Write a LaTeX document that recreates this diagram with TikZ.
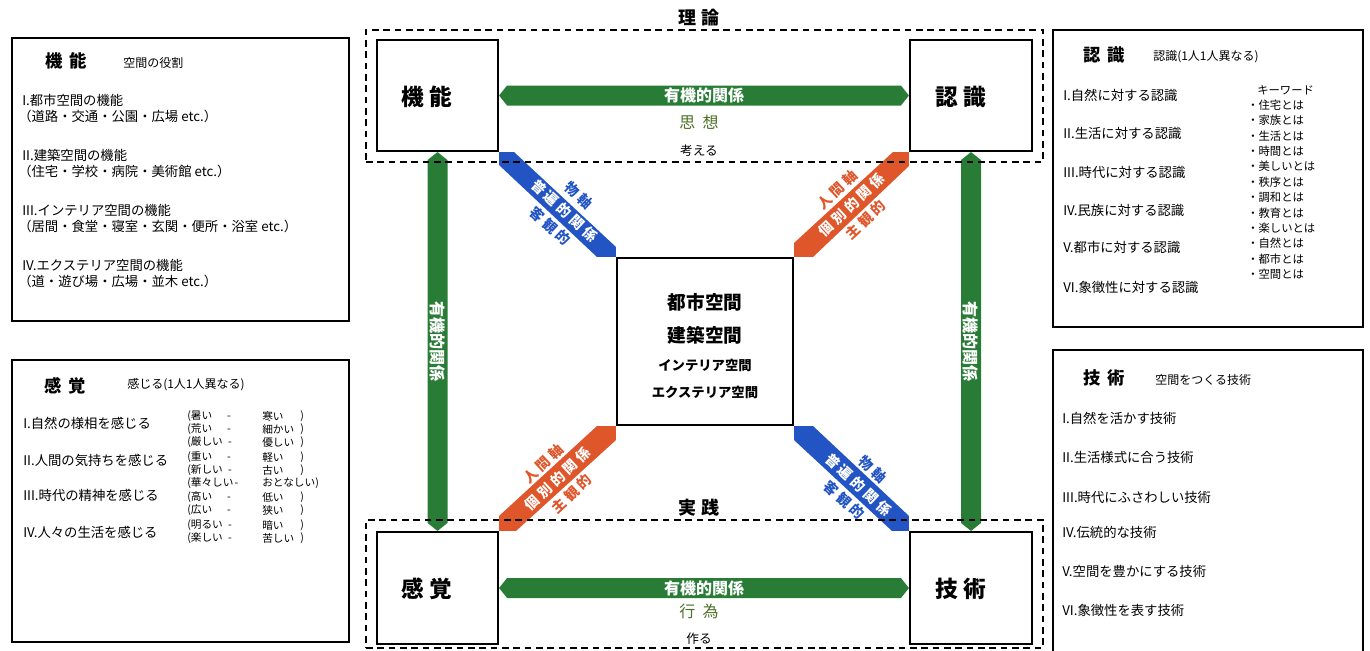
\documentclass[tikz,border=0pt]{standalone}
\usepackage{fontspec}
\setmainfont{Noto Sans CJK JP}
\usetikzlibrary{calc,fit}
\definecolor{grn}{RGB}{40,124,54}
\definecolor{blu}{RGB}{34,84,196}
\definecolor{org}{RGB}{222,86,42}
\definecolor{olv}{RGB}{76,112,38}
\newcommand{\myfs}[1]{\fontsize{#1}{#1}\selectfont}
\newcommand{\bandfs}{\fontsize{10.5}{15.5}\selectfont\addfontfeatures{LetterSpace=25}}
\begin{document}
\begin{tikzpicture}[x=0.75pt,y=-0.75pt,
 panel/.style={draw,line width=1.4pt,inner sep=0pt},
 box/.style={draw,line width=1.6pt,inner sep=0pt},
 dbox/.style={draw,line width=1.1pt,inner sep=0pt,dash pattern=on 5pt off 3.5pt},
 ttl/.style={font=\bfseries\myfs{13},inner sep=0pt},
 sub/.style={font=\myfs{9},anchor=west,inner sep=0pt},
 itm/.style={font=\myfs{10},anchor=west,inner sep=0pt},
 pr/.style={font=\myfs{8},anchor=west,inner sep=0pt},
 kw/.style={font=\myfs{8.5},anchor=west,inner sep=0pt},
 big/.style={font=\bfseries\myfs{17},inner sep=0pt},
 head/.style={font=\bfseries\myfs{13.5},inner sep=0pt},
 wlbl/.style={text=white,font=\bfseries\myfs{12},inner sep=0pt},
 olbl/.style={text=olv,font=\myfs{12},inner sep=0pt},
 small/.style={font=\myfs{9.5},inner sep=0pt},
 bandtxt/.style={align=center,font=\bfseries\bandfs,inner sep=0pt},
 ctrA/.style={font=\bfseries\myfs{14},inner sep=0pt},
 ctrB/.style={font=\bfseries\myfs{10},inner sep=0pt},
]
\useasboundingbox (0,0) rectangle (1370,650);

% ---------- side panels ----------
\node[panel,fit={(12,38) (349,321)}] (pk) {};
\node[panel,fit={(12,360) (349,642)}] (pf) {};
\node[panel,fit={(1053,30) (1363,327)}] (pn) {};
\node[panel,fit={(1053,350) (1363,662)}] (pg) {};

% panel: 機能
\node[ttl] (pkT) at (66,61) {機\hspace{.35em}能};
\node[sub] (pkS) at (123,63) {空間の役割};
\node[itm] (pk1) at (22,100) {I.都市空間の機能};
\node[itm] (pk1b) at (18,116) {（道路・交通・公園・広場 etc.）};
\node[itm] (pk2) at (22,155) {II.建築空間の機能};
\node[itm] (pk2b) at (18,171) {（住宅・学校・病院・美術館 etc.）};
\node[itm] (pk3) at (22,210) {III.インテリア空間の機能};
\node[itm] (pk3b) at (18,226) {（居間・食堂・寝室・玄関・便所・浴室 etc.）};
\node[itm] (pk4) at (22,265) {IV.エクステリア空間の機能};
\node[itm] (pk4b) at (18,281) {（道・遊び場・広場・並木 etc.）};

% panel: 感覚
\node[ttl] (pfT) at (65,386) {感\hspace{.35em}覚};
\node[sub] (pfS) at (127,385) {感じる(1人1人異なる)};
\node[itm] (pf1) at (23,423) {I.自然の様相を感じる};
\node[itm] (pf2) at (23,460) {II.人間の気持ちを感じる};
\node[itm] (pf3) at (23,495) {III.時代の精神を感じる};
\node[itm] (pf4) at (23,532) {IV.人々の生活を感じる};
\foreach \a/\b/\c/\y [count=\i] in {
 {(暑い\hspace{1.4em}-}/寒い/)/416,
 {(荒い\hspace{1.4em}-}/細かい/)/429,
 {(厳しい\hspace{.5em}-}/優しい/)/442,
 {(重い\hspace{1.4em}-}/軽い/)/457,
 {(新しい\hspace{.5em}-}/古い/)/470,
 {(華々しい\hspace{.1em}-}/{おとなしい)}/{}/483,
 {(高い\hspace{1.4em}-}/低い/)/497,
 {(広い\hspace{1.4em}-}/狭い/)/510,
 {(明るい\hspace{.5em}-}/暗い/)/525,
 {(楽しい\hspace{.5em}-}/苦しい/)/538}{
 \node[pr] (pa\i) at (187,\y) {\a};
 \node[pr] (pb\i) at (262,\y) {\b};
 \node[pr] (pc\i) at (300,\y) {\c};
}

% panel: 認識
\node[ttl] (pnT) at (1104,55) {認\hspace{.35em}識};
\node[sub] (pnS) at (1153,57) {認識(1人1人異なる)};
\node[itm] (pn1) at (1063,95) {I.自然に対する認識};
\node[itm] (pn2) at (1063,133) {II.生活に対する認識};
\node[itm] (pn3) at (1063,172) {III.時代に対する認識};
\node[itm] (pn4) at (1063,210) {IV.民族に対する認識};
\node[itm] (pn5) at (1063,247) {V.都市に対する認識};
\node[itm] (pn6) at (1063,287) {VI.象徴性に対する認識};
\node[kw] (kw0) at (1257,90) {キーワード};
\foreach \w [count=\i] in {住宅,家族,生活,時間,美しい,秩序,調和,教育,楽しい,自然,都市,空間}{
 \node[kw] (kw\i) at (1247,{105+15.4*(\i-1)}) {・\w とは};
}

% panel: 技術
\node[ttl] (pgT) at (1104,378) {技\hspace{.35em}術};
\node[sub] (pgS) at (1155,380) {空間をつくる技術};
\node[itm] (pg1) at (1062,418) {I.自然を活かす技術};
\node[itm] (pg2) at (1062,457) {II.生活様式に合う技術};
\node[itm] (pg3) at (1062,497) {III.時代にふさわしい技術};
\node[itm] (pg4) at (1062,532) {IV.伝統的な技術};
\node[itm] (pg5) at (1062,571) {V.空間を豊かにする技術};
\node[itm] (pg6) at (1062,610) {VI.象徴性を表す技術};

% ---------- central diagram ----------
\node[box,fit={(377,40) (498,151)}] (kino) {};
\node[box,fit={(910,40) (1032,151)}] (nin) {};
\node[box,fit={(377,532) (498,644)}] (kan) {};
\node[box,fit={(910,532) (1032,644)}] (gij) {};
\node[box,fit={(617,258) (793,425)}] (ctr) {};

\node[big] (kinoL) at ($(kino.center)+(-11,1)$) {機\hspace{.25em}能};
\node[big] (ninL) at ($(nin.center)+(-10,1)$) {認\hspace{.25em}識};
\node[big] (kanL) at ($(kan.center)+(-11,1)$) {感\hspace{.25em}覚};
\node[big] (gijL) at ($(gij.center)+(-10,1)$) {技\hspace{.25em}術};

\node[ctrA] (c1) at (705,302) {都市空間};
\node[ctrA] (c2) at (705,335) {建築空間};
\node[ctrB] (c3) at (705,365) {インテリア空間};
\node[ctrB] (c4) at (705,392) {エクステリア空間};

% green organic-relation arrows
\fill[grn] (kino.east) -- ($(kino.east)+(8,-10)$) -- ($(nin.west)+(-8,-10)$) -- (nin.west)
  -- ($(nin.west)+(-8,10)$) -- ($(kino.east)+(8,10)$) -- cycle;
\fill[grn] (kan.east) -- ($(kan.east)+(8,-10)$) -- ($(gij.west)+(-8,-10)$) -- (gij.west)
  -- ($(gij.west)+(-8,10)$) -- ($(kan.east)+(8,10)$) -- cycle;
\fill[grn] (kino.south) -- ($(kino.south)+(10,8)$) -- ($(kan.north)+(10,-8)$) -- (kan.north)
  -- ($(kan.north)+(-10,-8)$) -- ($(kino.south)+(-10,8)$) -- cycle;
\fill[grn] (nin.south) -- ($(nin.south)+(10,8)$) -- ($(gij.north)+(10,-8)$) -- (gij.north)
  -- ($(gij.north)+(-10,-8)$) -- ($(nin.south)+(-10,8)$) -- cycle;

\node[wlbl] (h1) at ($(kino.east)!.5!(nin.west)$) {有機的関係};
\node[wlbl] (h2) at ($(kan.east)!.5!(gij.west)$) {有機的関係};
\node[wlbl,rotate=-90] (v1) at ($(kino.south)!.5!(kan.north)$) {有機的関係};
\node[wlbl,rotate=-90] (v2) at ($(nin.south)!.5!(gij.north)$) {有機的関係};

\node[olbl] (shiso) at (699,122) {思\hspace{.45em}想};
\node[small] (kang) at (699,151) {考える};
\node[olbl] (koi) at (699,611) {行\hspace{.45em}為};
\node[small] (tsuk) at (699,639) {作る};

% diagonal bands
\fill[blu] (kino.south east) -- ($(kino.south east)+(15,0)$) -- ($(ctr.north west)+(0,-10)$)
  -- (ctr.north west) -- ($(ctr.north west)+(-19,0)$) -- ($(kino.south east)+(0,13)$) -- cycle;
\fill[org] (nin.south west) -- ($(nin.south west)+(0,14)$) -- ($(ctr.north east)+(19,0)$)
  -- (ctr.north east) -- ($(ctr.north east)+(0,-14)$) -- ($(nin.south west)+(-16,0)$) -- cycle;
\fill[org] (ctr.south west) -- ($(ctr.south west)+(0,14)$) -- ($(kan.north east)+(17,0)$)
  -- (kan.north east) -- ($(kan.north east)+(0,-15)$) -- ($(ctr.south west)+(-19,0)$) -- cycle;
\fill[blu] (ctr.south east) -- ($(ctr.south east)+(19,0)$) -- ($(gij.north west)+(0,-15)$)
  -- (gij.north west) -- ($(gij.north west)+(-17,0)$) -- ($(ctr.south east)+(0,14)$) -- cycle;

\node[bandtxt,rotate=-43] (b1) at ($(kino.south east)!.56!(ctr.north west)$)
  {\textcolor{blu}{物軸}\hspace{1.2em}\\\textcolor{white}{普遍的関係}\\\textcolor{blu}{客観的}\hspace{1.2em}};
\node[bandtxt,rotate=43] (b2) at ($(ctr.north east)!.5!(nin.south west)$)
  {\textcolor{org}{人間軸}\\\textcolor{white}{個別的関係}\\\textcolor{org}{主観的}};
\node[bandtxt,rotate=43] (b3) at ($(kan.north east)!.5!(ctr.south west)$)
  {\textcolor{org}{人間軸}\\\textcolor{white}{個別的関係}\\\textcolor{org}{主観的}};
\node[bandtxt,rotate=-43] (b4) at ($(ctr.south east)!.56!(gij.north west)$)
  {\textcolor{blu}{物軸}\hspace{1.2em}\\\textcolor{white}{普遍的関係}\\\textcolor{blu}{客観的}\hspace{1.2em}};

% dashed theory / practice areas
\node[dbox,fit={(366,30) (1043,162)}] (theory) {};
\node[dbox,fit={(366,520) (1043,648)}] (practice) {};
\node[head] (riron) at (699,18) {理\hspace{.3em}論};
\node[head] (jissen) at (699,508) {実\hspace{.3em}践};
\end{tikzpicture}
\end{document}
